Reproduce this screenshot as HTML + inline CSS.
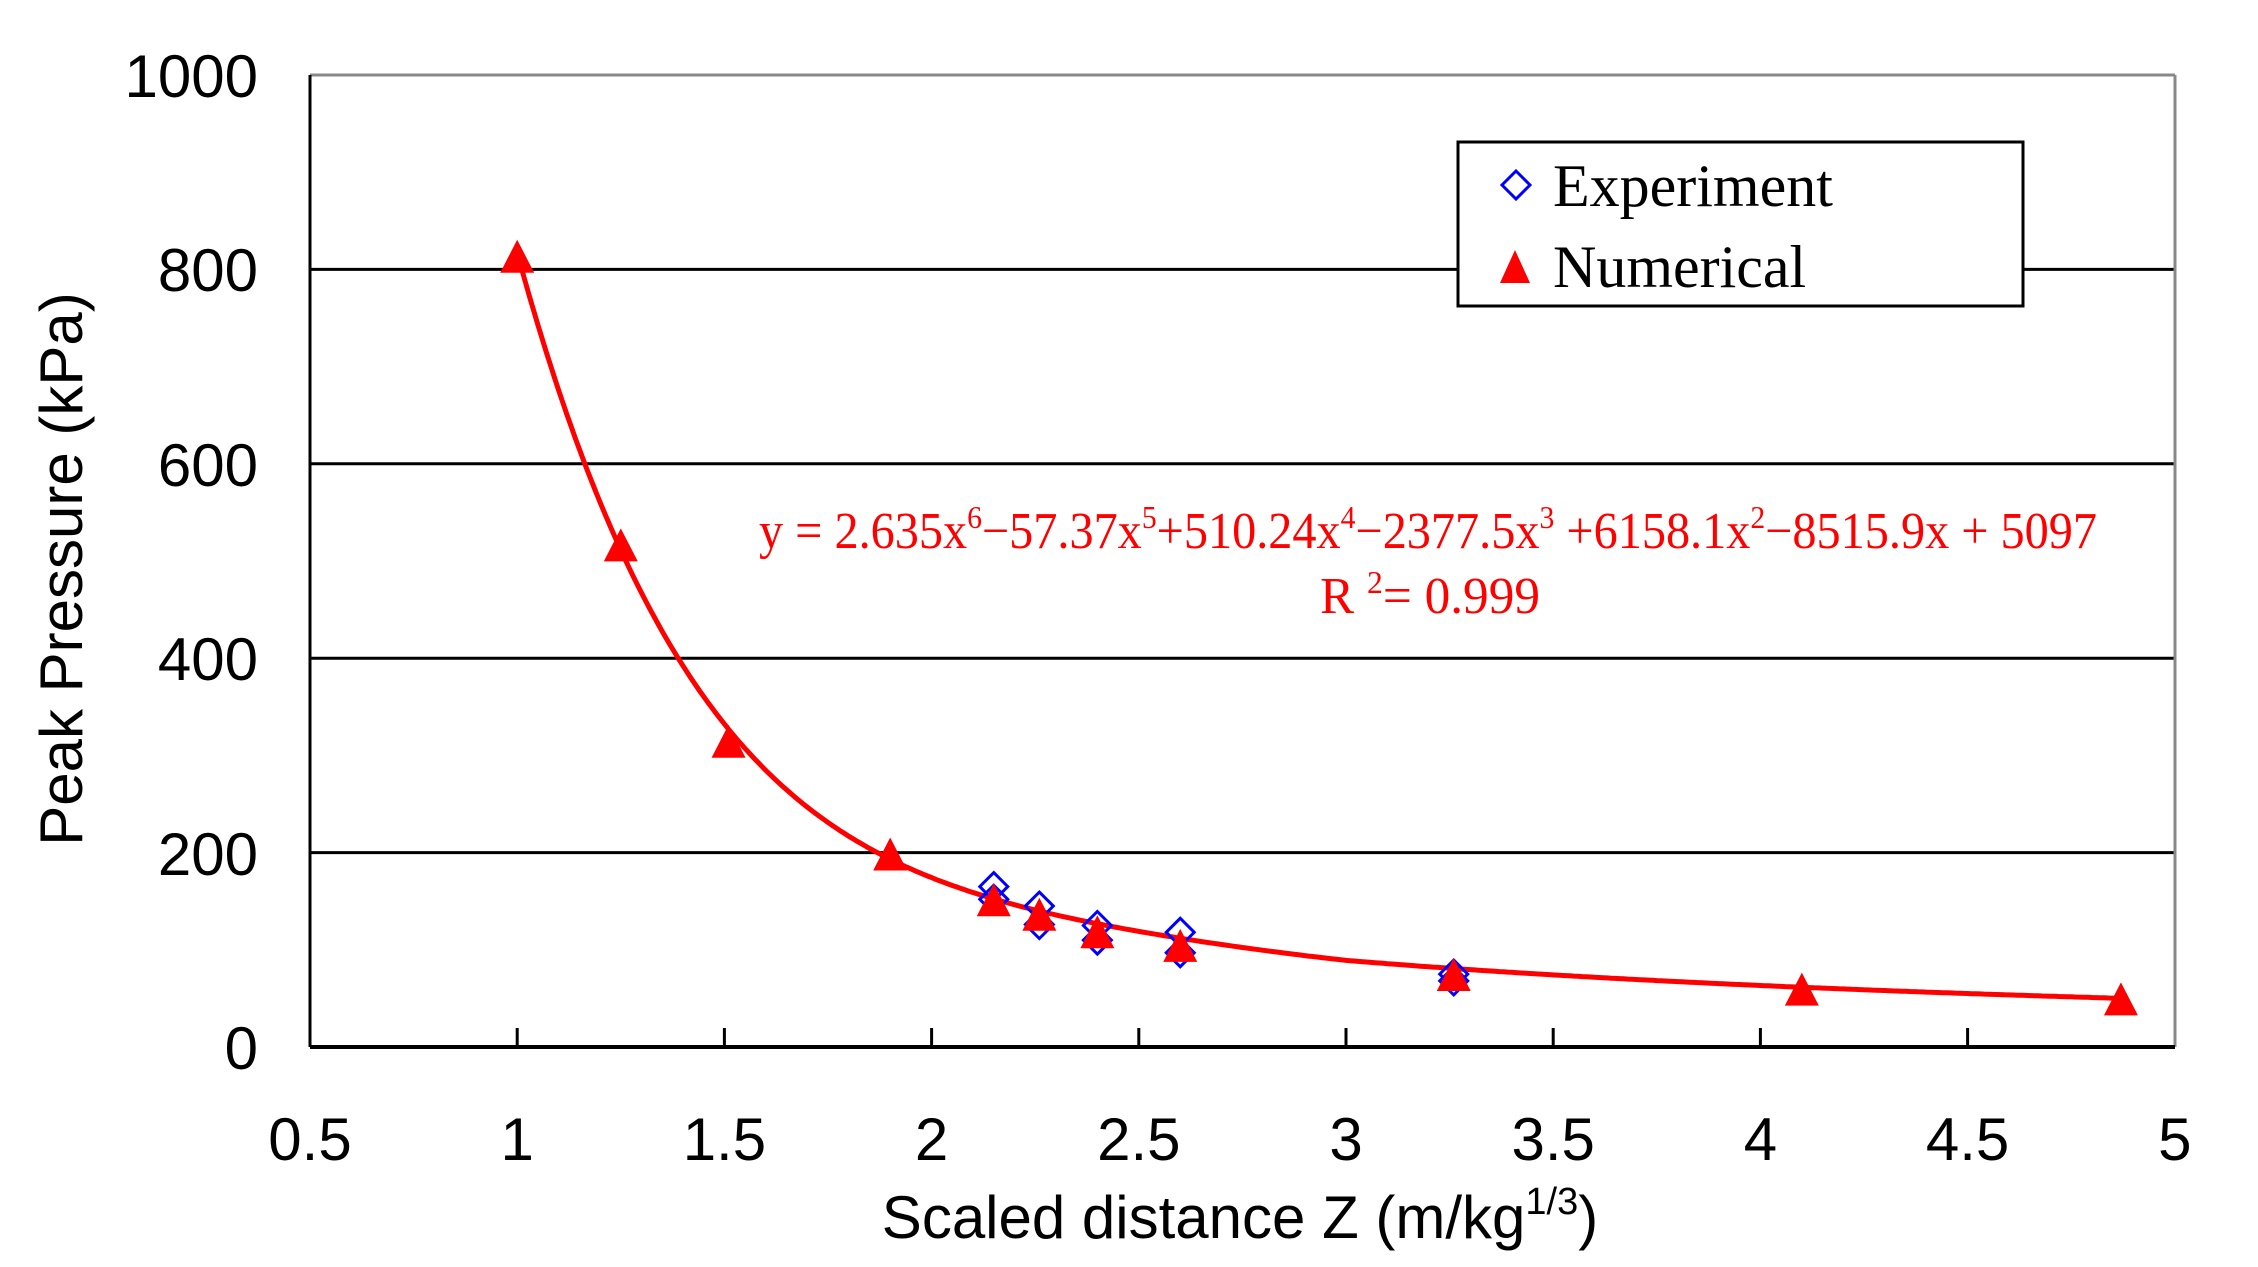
<!DOCTYPE html>
<html><head><meta charset="utf-8"><style>
html,body{margin:0;padding:0;background:#fff;}
svg{display:block;}
</style></head><body>
<svg id="s" width="2258" height="1267" viewBox="0 0 2258 1267" xmlns="http://www.w3.org/2000/svg">
<rect width="2258" height="1267" fill="#fff"/>
<g stroke="#000" stroke-width="3">
<line x1="310" y1="269.4" x2="2175" y2="269.4"/>
<line x1="310" y1="463.8" x2="2175" y2="463.8"/>
<line x1="310" y1="658.2" x2="2175" y2="658.2"/>
<line x1="310" y1="852.6" x2="2175" y2="852.6"/>
</g>
<line x1="310" y1="75" x2="2175" y2="75" stroke="#888" stroke-width="3"/>
<line x1="2175" y1="75" x2="2175" y2="1047" stroke="#888" stroke-width="3"/>
<line x1="310" y1="75" x2="310" y2="1047" stroke="#000" stroke-width="3"/>
<line x1="310" y1="1047" x2="2175" y2="1047" stroke="#000" stroke-width="4"/>
<g id="ticks" stroke="#000" stroke-width="3"></g>
<g font-family="Liberation Sans, sans-serif" font-size="60" fill="#000" text-anchor="end">
<text x="258" y="97">1000</text>
<text x="258" y="291">800</text>
<text x="258" y="486">600</text>
<text x="258" y="680">400</text>
<text x="258" y="875">200</text>
<text x="258" y="1069">0</text>
</g>
<g id="xl" font-family="Liberation Sans, sans-serif" font-size="60" fill="#000" text-anchor="middle"></g>
<text transform="translate(82,569) rotate(-90)" font-family="Liberation Sans, sans-serif" font-size="60" text-anchor="middle">Peak Pressure (kPa)</text>
<text x="1240" y="1238" font-family="Liberation Sans, sans-serif" font-size="60" text-anchor="middle">Scaled distance Z (m/kg<tspan font-size="38" dy="-24">1/3</tspan><tspan dy="24">)</tspan></text>
<path id="curve" fill="none" stroke="#f00" stroke-width="5"/>
<g id="pts"></g>
<text x="759" y="548" font-family="Liberation Serif, serif" font-size="52" fill="#f00" textLength="1338" lengthAdjust="spacingAndGlyphs">y = 2.635x<tspan font-size="32" dy="-20">6</tspan><tspan dy="20">−57.37x</tspan><tspan font-size="32" dy="-20">5</tspan><tspan dy="20">+510.24x</tspan><tspan font-size="32" dy="-20">4</tspan><tspan dy="20">−2377.5x</tspan><tspan font-size="32" dy="-20">3</tspan><tspan dy="20"> +6158.1x</tspan><tspan font-size="32" dy="-20">2</tspan><tspan dy="20">−8515.9x + 5097</tspan></text>
<text x="1320" y="613" font-family="Liberation Serif, serif" font-size="52" fill="#f00" textLength="220" lengthAdjust="spacingAndGlyphs">R <tspan font-size="32" dy="-20">2</tspan><tspan dy="20">= 0.999</tspan></text>
<rect x="1458" y="142" width="565" height="164" fill="#fff" stroke="#000" stroke-width="3"/>
<polygon points="1516,171 1530,185 1516,199 1502,185" fill="none" stroke="#00f" stroke-width="3"/>
<polygon points="1515,250 1530,283 1500,283" fill="#f00"/>
<g font-family="Liberation Serif, serif" font-size="60" fill="#000">
<text x="1553" y="206">Experiment</text>
<text x="1553" y="287">Numerical</text>
</g>
</svg>
<script>
var NS="http://www.w3.org/2000/svg";
function X(x){return 310+(x-0.5)*414.4;}
function Y(y){return 1047-y*0.972;}
function el(t,a,p){var e=document.createElementNS(NS,t);for(var k in a)e.setAttribute(k,a[k]);document.getElementById(p).appendChild(e);return e;}
var labs=["0.5","1","1.5","2","2.5","3","3.5","4","4.5","5"];
for(var i=0;i<10;i++){var xv=0.5+i*0.5;
 if(i>0&&i<9)el("line",{x1:X(xv),y1:1047,x2:X(xv),y2:1028},"ticks");
 var t=el("text",{x:X(xv),y:1160},"xl");t.textContent=labs[i];}
function P(x){return 2.635*Math.pow(x,6)-57.37*Math.pow(x,5)+510.24*Math.pow(x,4)-2377.5*Math.pow(x,3)+6158.1*x*x-8515.9*x+5097;}
var y3=P(3);
function F(x){if(x<=3)return P(x);return y3*Math.pow(x/3,-1.19);}
var d="";for(var x=1;x<=4.87001;x+=0.01){d+=(d?"L":"M")+X(x).toFixed(1)+","+Y(F(x)).toFixed(1);}
document.getElementById("curve").setAttribute("d",d);
var ex=[[2.15,165],[2.15,152],[2.26,145],[2.26,126],[2.4,125],[2.4,110],[2.6,118],[2.6,97],[3.26,75],[3.26,68]];
ex.forEach(function(p){var cx=X(p[0]),cy=Y(p[1]);el("polygon",{points:cx+","+(cy-14)+" "+(cx+14)+","+cy+" "+cx+","+(cy+14)+" "+(cx-14)+","+cy,fill:"none",stroke:"#00f","stroke-width":3},"pts");});
var nu=[[1,812],[1.25,515],[1.51,313],[1.9,197],[2.15,150],[2.26,135],[2.4,117],[2.6,103],[3.26,73],[4.1,58],[4.87,48]];
nu.forEach(function(p){var cx=X(p[0]),cy=Y(p[1]);el("polygon",{points:cx+","+(cy-18)+" "+(cx+17)+","+(cy+15)+" "+(cx-17)+","+(cy+15),fill:"#f00"},"pts");});
</script>
</body></html>
